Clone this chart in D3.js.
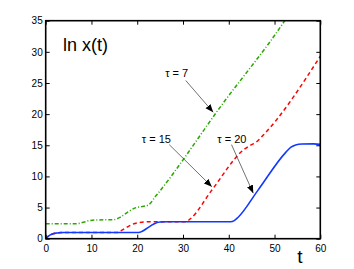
<!DOCTYPE html>
<html>
<head>
<meta charset="utf-8">
<script src="https://cdn.jsdelivr.net/npm/d3@7"></script>
<style>
  html, body { margin: 0; padding: 0; background: #fff; }
  svg { display: block; font-family: "Liberation Sans", Arial, Helvetica, sans-serif; }
</style>
</head>
<body>
<svg id="chart" width="354" height="269"></svg>
<script>
// ln x(t) curves as [t, value]
const tau20 = [[0,0],[0.6,0.4],[1.3,0.7],[2.2,0.9],[3,0.97],[4,1.0],[20.3,1.0],[21,1.15],[22,1.6],[23,2.1],[24,2.5],[25,2.67],[26.5,2.72],[40.4,2.72],[41.2,2.9],[42,3.4],[46.4,7.8],[52.5,13.9],[53.6,14.7],[54.6,15.05],[56,15.2],[58.5,15.22],[60,15.15]];
const tau15 = [[0,0],[0.6,0.4],[1.3,0.7],[2.2,0.9],[3,0.97],[4,1.0],[15.6,1.0],[16.5,1.3],[18,1.95],[19.5,2.45],[21,2.65],[23,2.72],[30.6,2.72],[31.6,3.2],[36.3,7.8],[43.3,14.3],[44.5,14.9],[46,15.5],[47.5,16.6],[60,29.3]];
const tau7 = [[0,2.4],[6.6,2.4],[8,2.6],[9.5,2.9],[11,3.0],[14.8,3.05],[16.3,3.45],[18,4.3],[19.6,4.95],[21,5.15],[22.4,5.4],[24,6.8],[38.5,21.5],[52.4,35.2],[54,37]];

const xTicks = [0, 10, 20, 30, 40, 50, 60];
const yTicks = [0, 5, 10, 15, 20, 25, 30, 35];

// label text, text anchor [t, v], arrow tail [t, v], arrow head [t, v]
const notes = [
  { text: "\u03c4 = 7",  at: [26.1, 25.9], from: [30.6, 25.4], to: [36.6, 20.3] },
  { text: "\u03c4 = 15", at: [21.0, 15.4], from: [27.0, 15.1], to: [36.3, 8.35] },
  { text: "\u03c4 = 20", at: [37.5, 15.4], from: [40.6, 15.1], to: [45.35, 7.3] }
];

const svg = d3.select("#chart");
const box = { left: 45.7, right: 320.3, top: 20.7, bottom: 238.7 };

const x = d3.scaleLinear().domain([0, 60]).range([box.left, box.right]);
const y = d3.scaleLinear().domain([0, 35]).range([box.bottom, box.top]);

const defs = svg.append("defs");
defs.append("clipPath").attr("id", "plot")
  .append("rect")
  .attr("x", box.left).attr("y", box.top)
  .attr("width", box.right - box.left).attr("height", box.bottom - box.top);

defs.append("marker")
  .attr("id", "head")
  .attr("viewBox", "0 0 10 10")
  .attr("refX", 10).attr("refY", 5)
  .attr("markerWidth", 8).attr("markerHeight", 8)
  .attr("markerUnits", "userSpaceOnUse")
  .attr("orient", "auto")
  .append("path")
  .attr("d", "M0,1 L10,5 L0,9 Z")
  .attr("fill", "#000");

const line = d3.line()
  .x(d => x(d[0]))
  .y(d => y(d[1]))
  .curve(d3.curveMonotoneX);

const lines = svg.append("g").attr("clip-path", "url(#plot)");

lines.append("path").datum(tau7)
  .attr("d", line).attr("fill", "none")
  .attr("stroke", "#2aa800").attr("stroke-width", 1.5)
  .attr("stroke-dasharray", "4,2,1,2");

lines.append("path").datum(tau15)
  .attr("d", line).attr("fill", "none")
  .attr("stroke", "#ff0000").attr("stroke-width", 1.5)
  .attr("stroke-dasharray", "4,3");

lines.append("path").datum(tau20)
  .attr("d", line).attr("fill", "none")
  .attr("stroke", "#1238ff").attr("stroke-width", 1.6);

// axes: bottom/left with labels, top/right ticks only
const tickLen = 4;
svg.append("g")
  .attr("transform", `translate(0,${box.bottom})`)
  .call(d3.axisBottom(x).tickValues(xTicks).tickSize(-tickLen).tickPadding(6))
  .call(g => g.select(".domain").remove());

svg.append("g")
  .attr("transform", `translate(${box.left},0)`)
  .call(d3.axisLeft(y).tickValues(yTicks).tickSize(-tickLen).tickPadding(3))
  .call(g => g.select(".domain").remove());

svg.append("g")
  .attr("transform", `translate(0,${box.top})`)
  .call(d3.axisTop(x).tickValues(xTicks).tickSize(-tickLen).tickFormat(""))
  .call(g => g.select(".domain").remove());

svg.append("g")
  .attr("transform", `translate(${box.right},0)`)
  .call(d3.axisRight(y).tickValues(yTicks).tickSize(-tickLen).tickFormat(""))
  .call(g => g.select(".domain").remove());

svg.selectAll(".tick line").attr("stroke", "#000").attr("stroke-width", 1);
svg.selectAll(".tick text")
  .attr("fill", "#000")
  .style("font-size", "10px")
  .style("font-family", "\"Liberation Sans\", Arial, sans-serif");

svg.append("rect")
  .attr("x", box.left).attr("y", box.top)
  .attr("width", box.right - box.left).attr("height", box.bottom - box.top)
  .attr("fill", "none").attr("stroke", "#000").attr("stroke-width", 1.6);

// annotations
notes.forEach(n => {
  svg.append("line")
    .attr("x1", x(n.from[0])).attr("y1", y(n.from[1]))
    .attr("x2", x(n.to[0])).attr("y2", y(n.to[1]))
    .attr("stroke", "#333").attr("stroke-width", 0.7)
    .attr("marker-end", "url(#head)");
  svg.append("text")
    .attr("x", x(n.at[0])).attr("y", y(n.at[1]))
    .style("font-size", "11px")
    .text(n.text);
});

svg.append("text")
  .attr("x", 63).attr("y", 51)
  .style("font-size", "18px")
  .text("ln x(t)");

svg.append("text")
  .attr("x", 300).attr("y", 263)
  .attr("text-anchor", "middle")
  .style("font-size", "19px")
  .text("t");
</script>
</body>
</html>
